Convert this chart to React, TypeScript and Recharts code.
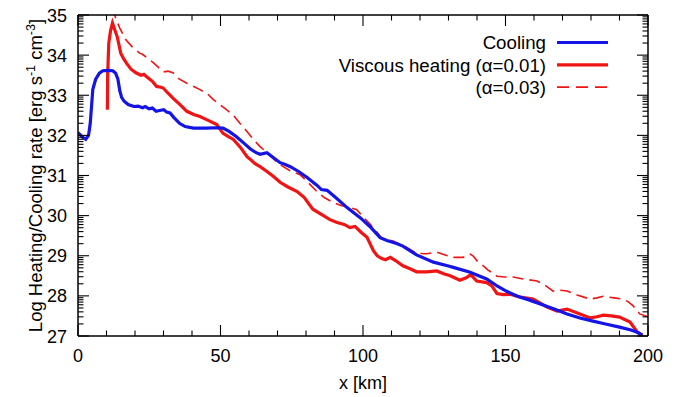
import React from 'react';
import { LineChart, Line, XAxis, YAxis, Legend } from 'recharts';

// ---------- data ----------
const coolingX = [0, 1.7, 2.7, 3.7, 4.3, 5.2, 6.2, 7.5, 8.7, 10.7, 12.2, 13.2, 14, 14.7, 15.3, 16.2, 17.6, 19.6, 21.1, 22.6, 23.6, 24.9, 26.1, 27.4, 28.6, 30.1, 31.1, 32.3, 33.6, 35.6, 37.6, 40.5, 45, 48.5, 50.9, 53, 55.5, 58, 60.5, 62.5, 63.9, 66.3, 68.5, 70.9, 72.5, 74.5, 77.4, 80.4, 83.8, 85.4, 87.4, 90.4, 94.4, 99, 102.4, 106, 108.4, 112, 114, 118.8, 124.7, 130.3, 131.7, 137.6, 141, 143.4, 147.2, 150.2, 154.2, 158.2, 162.2, 167.1, 171.6, 176.1, 180.7, 185.1, 190, 194, 196, 198];
const coolingY = [32.07, 31.95, 31.9, 32.0, 32.3, 33.15, 33.4, 33.55, 33.61, 33.62, 33.61, 33.55, 33.4, 33.1, 32.95, 32.85, 32.77, 32.72, 32.73, 32.69, 32.72, 32.66, 32.68, 32.6, 32.62, 32.64, 32.58, 32.56, 32.45, 32.3, 32.22, 32.18, 32.18, 32.19, 32.18, 32.1, 31.97, 31.82, 31.66, 31.57, 31.53, 31.57, 31.45, 31.32, 31.28, 31.22, 31.1, 30.95, 30.76, 30.65, 30.63, 30.45, 30.2, 29.95, 29.73, 29.45, 29.38, 29.3, 29.24, 29.02, 28.84, 28.74, 28.71, 28.59, 28.49, 28.42, 28.24, 28.12, 27.99, 27.9, 27.8, 27.67, 27.55, 27.45, 27.37, 27.3, 27.22, 27.15, 27.1, 27.02];

const heat01X = [10.3, 10.4, 10.8, 11.4, 12.1, 12.8, 13.8, 15, 16.1, 17, 18.6, 20.3, 22.1, 23.1, 24.1, 26.2, 27.6, 29.1, 29.9, 31.6, 33.3, 35.6, 38.2, 40.6, 42.8, 45.5, 48.7, 50.9, 52.5, 54.5, 57, 59.3, 60.5, 62, 63.9, 66.3, 68.5, 70.9, 73.5, 76.9, 79.4, 82.4, 85.4, 88.4, 90.9, 93.4, 95.4, 97.2, 99.4, 101.4, 103.7, 105, 106.6, 107.9, 109.6, 111.4, 114, 116.3, 118.8, 122.3, 125.9, 128.3, 130.6, 134, 136.2, 137.8, 139.9, 143.4, 145.2, 147, 149.2, 151.6, 155.2, 159.7, 162.2, 164.6, 168.1, 171.6, 176.1, 179.7, 182.1, 184.3, 187.1, 190, 193.7, 196, 198];
const heat01Y = [32.64, 33.5, 34.3, 34.6, 34.8, 34.65, 34.45, 34.05, 33.9, 33.8, 33.65, 33.56, 33.5, 33.52, 33.46, 33.34, 33.22, 33.2, 33.18, 33.05, 32.93, 32.78, 32.6, 32.52, 32.47, 32.38, 32.27, 32.05, 31.98, 31.9, 31.7, 31.47, 31.4, 31.3, 31.22, 31.1, 30.98, 30.83, 30.72, 30.6, 30.45, 30.16, 30.03, 29.9, 29.83, 29.78, 29.7, 29.73, 29.58, 29.46, 29.12, 29.0, 28.93, 28.9, 28.96, 28.88, 28.75, 28.68, 28.6, 28.6, 28.62, 28.55, 28.5, 28.39, 28.45, 28.53, 28.37, 28.33, 28.25, 28.06, 28.03, 28.04, 27.97, 27.92, 27.82, 27.72, 27.62, 27.67, 27.55, 27.45, 27.48, 27.52, 27.5, 27.47, 27.35, 27.12, 27.02];

const heat03X = [10.9, 12.1, 13.1, 14.6, 16.8, 19.1, 21.6, 22.6, 25.2, 26.6, 29.9, 31.6, 33.3, 35.6, 38.2, 40.6, 42.8, 45.5, 47.5, 49.5, 52.1, 54.5, 56.8, 59, 61.5, 63.9, 66.3, 68.5, 70.9, 74.4, 77.9, 80.4, 83.8, 86.4, 89.4, 92.3, 95.3, 97.8, 99.3, 102.3, 104.8, 106.8, 110.6, 115.2, 118.8, 122.3, 125.9, 128.8, 131.7, 135.1, 137.6, 138.7, 140.3, 142.2, 143.8, 147, 149.7, 152.7, 156.2, 161.1, 164.2, 166.7, 169.2, 171.6, 175.1, 179.7, 182.1, 184.3, 188.1, 191.3, 193.1, 194.8, 197.1, 200];
const heat03Y = [35.6, 35.2, 34.95, 34.68, 34.38, 34.2, 34.05, 34.02, 33.88, 33.8, 33.58, 33.6, 33.56, 33.4, 33.3, 33.22, 33.14, 33.03, 32.89, 32.78, 32.64, 32.5, 32.3, 32.12, 31.9, 31.72, 31.57, 31.42, 31.27, 31.12, 31.02, 30.85, 30.6, 30.45, 30.33, 30.25, 30.2, 30.15, 30.03, 29.8, 29.6, 29.42, 29.37, 29.21, 29.06, 29.05, 29.09, 29.02, 28.96, 28.96, 29.04, 28.99, 28.85, 28.75, 28.65, 28.49, 28.47, 28.47, 28.42, 28.37, 28.25, 28.12, 28.14, 28.12, 28.02, 27.92, 27.95, 27.99, 27.95, 27.92, 27.85, 27.75, 27.55, 27.48];

const seriesLabels = ['Cooling', 'Viscous heating (\u03b1=0.01)', '(\u03b1=0.03)'];

const xTicks = [0, 10, 20, 30, 40, 50, 60, 70, 80, 90, 100, 110, 120, 130, 140, 150, 160, 170, 180, 190, 200];
const xMajorTicks = [0, 50, 100, 150, 200];
const yMajorTicks = [27, 28, 29, 30, 31, 32, 33, 34, 35];
const yMinorSteps = [2, 3, 4, 5, 6, 7, 8, 9];

const xLabel = 'x [km]';

// ---------- derived ----------
const zip = (xs: number[], ys: number[]) => xs.map((x, i) => ({ x, y: ys[i] }));
const coolingData = zip(coolingX, coolingY);
const heat01Data = zip(heat01X, heat01Y);
const heat03Data = zip(heat03X, heat03Y);

const yTicks: number[] = [];
yMajorTicks.forEach((n, i) => {
  yTicks.push(n);
  if (i < yMajorTicks.length - 1) yMinorSteps.forEach((k) => yTicks.push(n + Math.log10(k)));
});

// ---------- style ----------
const FONT = '"Liberation Sans", Arial, Helvetica, sans-serif';
const BLUE = '#1414e6';
const RED = '#f01414';
const MAJOR = 11;
const MINOR = 5.5;
const TICK_W = 1.1;
const W = 680;
const H = 397;

const isMajorY = (v: number) => Number.isInteger(v);

const BottomTick = (props: any) => {
  const { x, y, payload } = props;
  const v = payload.value;
  const major = xMajorTicks.includes(v);
  return (
    <g>
      <line x1={x} y1={y} x2={x} y2={y - (major ? MAJOR : MINOR)} stroke="#000" strokeWidth={TICK_W} />
      {major && (
        <text x={x} y={y + 26} textAnchor="middle" fontSize={18} fontFamily={FONT} fill="#000">
          {v}
        </text>
      )}
    </g>
  );
};

const TopTick = (props: any) => {
  const { x, y, payload } = props;
  const major = xMajorTicks.includes(payload.value);
  return <line x1={x} y1={y} x2={x} y2={y + (major ? MAJOR : MINOR)} stroke="#000" strokeWidth={TICK_W} />;
};

const LeftTick = (props: any) => {
  const { x, y, payload } = props;
  const v = payload.value;
  const major = isMajorY(v);
  return (
    <g>
      <line x1={x} y1={y} x2={x + (major ? MAJOR : MINOR)} y2={y} stroke="#000" strokeWidth={TICK_W} />
      {major && (
        <text x={x - 11} y={y + 6.5} textAnchor="end" fontSize={18} fontFamily={FONT} fill="#000">
          {v}
        </text>
      )}
    </g>
  );
};

const RightTick = (props: any) => {
  const { x, y, payload } = props;
  const major = isMajorY(payload.value);
  return <line x1={x} y1={y} x2={x - (major ? MAJOR : MINOR)} y2={y} stroke="#000" strokeWidth={TICK_W} />;
};

const YLabel = () => {
  const cx = 42;
  const cy = 175.5;
  return (
    <text
      x={cx}
      y={cy}
      transform={`rotate(-90, ${cx}, ${cy})`}
      textAnchor="middle"
      fontSize={18.5}
      fontFamily={FONT}
      fill="#000"
    >
      Log Heating/Cooling rate [erg s
      <tspan dy={-7} fontSize={12.5}>-1</tspan>
      <tspan dy={7}> cm</tspan>
      <tspan dy={-7} fontSize={12.5}>-3</tspan>
      <tspan dy={7}>]</tspan>
    </text>
  );
};

const XLabel = () => (
  <text x={363} y={389} textAnchor="middle" fontSize={18} fontFamily={FONT} fill="#000">
    {xLabel}
  </text>
);

const legendStyles = [
  { color: BLUE, width: 3.2, dash: undefined as string | undefined },
  { color: RED, width: 3.2, dash: undefined as string | undefined },
  { color: RED, width: 1.6, dash: '12 7' },
];

const LegendContent = () => (
  <svg width={W} height={110} style={{ display: 'block' }}>
    {seriesLabels.map((label, i) => {
      const cy = 42.5 + i * 22.3;
      const s = legendStyles[i];
      return (
        <g key={label}>
          <text x={546} y={cy + 6.7} textAnchor="end" fontSize={18.7} fontFamily={FONT} fill="#000">
            {label}
          </text>
          <line x1={557} x2={608} y1={cy} y2={cy} stroke={s.color} strokeWidth={s.width} strokeDasharray={s.dash} />
        </g>
      );
    })}
  </svg>
);

const axisLine = { stroke: '#000', strokeWidth: 1.5 };

export default function App() {
  return (
    <div style={{ position: 'absolute', left: 0, top: 0, width: W, height: H }}>
      <LineChart width={W} height={H} margin={{ top: 14, right: 31, bottom: 0, left: 0 }}>
        <XAxis
          xAxisId="bottom"
          dataKey="x"
          type="number"
          domain={[0, 200]}
          allowDataOverflow
          ticks={xTicks}
          interval={0}
          tickSize={0}
          tickMargin={0}
          tickLine={false}
          tick={BottomTick}
          axisLine={axisLine}
          height={61}
          label={<XLabel />}
        />
        <XAxis
          xAxisId="top"
          orientation="top"
          dataKey="x"
          type="number"
          domain={[0, 200]}
          allowDataOverflow
          ticks={xTicks}
          interval={0}
          tickSize={0}
          tickMargin={0}
          tickLine={false}
          tick={TopTick}
          axisLine={axisLine}
          height={1}
        />
        <YAxis
          yAxisId="left"
          type="number"
          domain={[27, 35]}
          allowDataOverflow
          ticks={yTicks}
          interval={0}
          tickSize={0}
          tickMargin={0}
          tickLine={false}
          tick={LeftTick}
          axisLine={axisLine}
          width={78}
          label={<YLabel />}
        />
        <YAxis
          yAxisId="right"
          orientation="right"
          type="number"
          domain={[27, 35]}
          allowDataOverflow
          ticks={yTicks}
          interval={0}
          tickSize={0}
          tickMargin={0}
          tickLine={false}
          tick={RightTick}
          axisLine={axisLine}
          width={1}
        />
        <Legend
          layout="horizontal"
          verticalAlign="middle"
          align="center"
          wrapperStyle={{ position: 'absolute', left: 0, top: 0, width: W, height: 110, margin: 0, padding: 0 }}
          content={LegendContent}
        />
        <Line
          xAxisId="bottom"
          yAxisId="left"
          data={heat03Data}
          dataKey="y"
          type="linear"
          stroke={RED}
          strokeWidth={1.6}
          strokeDasharray="11 6"
          dot={false}
          activeDot={false}
          isAnimationActive={false}
        />
        <Line
          xAxisId="bottom"
          yAxisId="left"
          data={heat01Data}
          dataKey="y"
          type="linear"
          stroke={RED}
          strokeWidth={3.2}
          dot={false}
          activeDot={false}
          isAnimationActive={false}
        />
        <Line
          xAxisId="bottom"
          yAxisId="left"
          data={coolingData}
          dataKey="y"
          type="linear"
          stroke={BLUE}
          strokeWidth={3.2}
          dot={false}
          activeDot={false}
          isAnimationActive={false}
        />
      </LineChart>
    </div>
  );
}
